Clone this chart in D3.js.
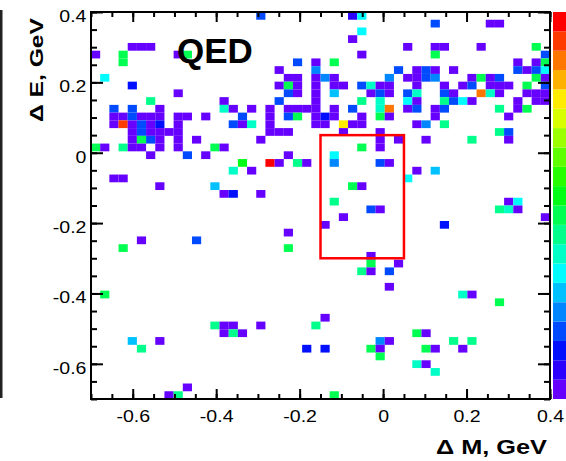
<!DOCTYPE html>
<html>
<head>
<meta charset="utf-8">
<script src="https://cdn.jsdelivr.net/npm/d3@7"></script>
<style>
body { margin: 0; background: #fff; }
svg { display: block; font-family: "Liberation Sans", Arial, sans-serif; }
</style>
</head>
<body>
<svg width="566" height="461"></svg>
<script>
// 2D histogram, 50 x 50 bins over [-0.7, 0.4] GeV in both directions
const binW = 0.022;
const rangeM = [-0.7, 0.4];
const rangeE = [-0.7, 0.4];
const majorTicks = [-0.6, -0.4, -0.2, 0, 0.2, 0.4];

// signal box drawn in red
const boxM = [-0.15, 0.05];
const boxE = [-0.3, 0.05];

// populated rows: dE bin centre, then dM bin centres and entries in that row
const rowE = [0.389, 0.367, 0.345, 0.323, 0.301, 0.279, 0.257, 0.235, 0.213, 0.191,
  0.169, 0.147, 0.125, 0.103, 0.081, 0.059, 0.037, 0.015, -0.007, -0.029,
  -0.051, -0.073, -0.095, -0.117, -0.139, -0.161, -0.183, -0.205, -0.227, -0.249,
  -0.271, -0.293, -0.315, -0.337, -0.381, -0.403, -0.425, -0.469, -0.491, -0.513,
  -0.535, -0.557, -0.579, -0.601, -0.623, -0.667, -0.689];

const rowM = [
  [-0.293, -0.073, -0.051],
  [0.125, 0.257, 0.279],
  [-0.051],
  [-0.073],
  [-0.601, -0.579, -0.557, 0.059, 0.125, 0.147, 0.235, 0.367],
  [-0.689, -0.623, -0.491, -0.469, -0.051, 0.125, 0.389],
  [-0.623, -0.205, -0.161, -0.117, 0.323, 0.367, 0.389],
  [-0.249, -0.161, 0.037, 0.081, 0.103, 0.125, 0.169, 0.323, 0.345, 0.367, 0.389],
  [-0.667, -0.227, -0.205, -0.161, -0.139, -0.117, 0.015, 0.059, 0.081, 0.103, 0.125, 0.213, 0.235, 0.257, 0.279, 0.367, 0.389],
  [-0.601, -0.249, -0.227, -0.205, -0.161, -0.117, -0.095, -0.051, -0.029, -0.007, 0.015, 0.081, 0.147, 0.191, 0.213, 0.257, 0.279, 0.301, 0.345, 0.389],
  [-0.491, -0.227, -0.205, -0.161, -0.117, -0.029, -0.007, 0.015, 0.059, 0.081, 0.147, 0.169, 0.235, 0.257, 0.279, 0.345, 0.367, 0.389],
  [-0.557, -0.381, -0.249, -0.161, -0.051, -0.007, 0.059, 0.081, 0.147, 0.169, 0.191, 0.213, 0.323, 0.367, 0.389],
  [-0.645, -0.601, -0.535, -0.381, -0.359, -0.315, -0.271, -0.227, -0.205, -0.183, -0.161, -0.117, -0.073, -0.007, 0.015, 0.059, 0.081, 0.125, 0.147, 0.279, 0.323, 0.345],
  [-0.645, -0.623, -0.601, -0.579, -0.557, -0.535, -0.491, -0.469, -0.425, -0.337, -0.271, -0.227, -0.205, -0.161, -0.139, -0.117, -0.051, -0.007, 0.015, 0.125, 0.301],
  [-0.645, -0.623, -0.601, -0.579, -0.557, -0.535, -0.491, -0.359, -0.337, -0.315, -0.271, -0.161, -0.139, -0.095, -0.073, -0.051, 0.081, 0.103, 0.147],
  [-0.601, -0.579, -0.557, -0.535, -0.513, -0.491, -0.271, -0.249, -0.227, -0.095, -0.007, 0.279, 0.301],
  [-0.601, -0.579, -0.557, -0.535, -0.491, -0.447, -0.293, -0.007, 0.037, 0.103, 0.213, 0.301],
  [-0.689, -0.667, -0.623, -0.601, -0.579, -0.535, -0.491, -0.403, -0.381, -0.051, -0.007],
  [-0.557, -0.469, -0.425, -0.227, -0.117],
  [-0.337, -0.271, -0.249, -0.205, -0.183, -0.117, -0.007, 0.015],
  [-0.359, -0.315, 0.081, 0.125],
  [-0.645, -0.623, 0.059],
  [-0.535, -0.403, -0.073, -0.051],
  [-0.381, -0.359, -0.293],
  [-0.117, 0.301, 0.323],
  [-0.029, -0.007, 0.279, 0.301, 0.323],
  [-0.095, 0.389],
  [-0.139, 0.147],
  [-0.227],
  [-0.579, -0.447],
  [-0.623, -0.227],
  [-0.029],
  [-0.029, 0.037],
  [-0.051, -0.029, 0.015],
  [0.015],
  [-0.667, 0.191, 0.213],
  [0.279],
  [-0.139],
  [-0.403, -0.381, -0.359, -0.293, -0.161],
  [-0.381, -0.359, -0.337, 0.081, 0.103],
  [-0.601, -0.535, -0.007, 0.015, 0.169, 0.213],
  [-0.579, -0.183, -0.139, -0.029, -0.007, 0.103, 0.125, 0.191],
  [-0.007],
  [0.081, 0.103],
  [0.125],
  [-0.469],
  [-0.513, -0.491, -0.117]
];

const rowN = [
  [4, 2, 7],
  [4, 1, 1],
  [7],
  [1],
  [1, 1, 1, 1, 1, 1, 1, 10],
  [1, 10, 1, 10, 1, 10, 4],
  [10, 4, 1, 10, 1, 1, 10],
  [1, 5, 4, 1, 4, 1, 1, 4, 1, 4, 7],
  [7, 1, 1, 1, 5, 1, 5, 1, 1, 4, 5, 1, 10, 1, 4, 10, 1],
  [3, 1, 10, 1, 1, 1, 1, 4, 8, 1, 1, 1, 1, 1, 4, 1, 1, 1, 10, 4],
  [1, 4, 1, 1, 6, 1, 4, 1, 4, 8, 4, 1, 18, 8, 1, 1, 1, 1],
  [9, 1, 4, 1, 9, 8, 7, 1, 9, 4, 7, 1, 1, 1, 1],
  [4, 4, 1, 8, 1, 1, 1, 1, 1, 1, 1, 1, 4, 8, 18, 1, 4, 1, 4, 9, 1, 10],
  [1, 1, 4, 1, 1, 1, 1, 1, 1, 4, 1, 4, 10, 1, 3, 1, 1, 10, 1, 1, 1],
  [1, 19, 1, 4, 1, 3, 1, 4, 1, 8, 1, 1, 1, 16, 1, 1, 1, 5, 9],
  [1, 4, 1, 1, 1, 1, 1, 1, 1, 1, 1, 9, 4],
  [1, 10, 4, 1, 1, 1, 1, 1, 1, 1, 9, 1],
  [10, 1, 9, 1, 1, 1, 1, 10, 1, 10, 1],
  [1, 4, 1, 1, 7],
  [11, 20, 1, 9, 1, 5, 4, 1],
  [8, 1, 1, 6],
  [1, 1, 7],
  [1, 6, 10, 1],
  [1, 3, 1],
  [9, 1, 7],
  [4, 1, 9, 8, 1],
  [1, 1],
  [1, 3],
  [1],
  [1, 4],
  [10, 10],
  [1],
  [10, 1],
  [9, 1, 4],
  [1],
  [10, 8, 1],
  [10],
  [1],
  [9, 1, 1, 1, 9],
  [1, 9, 1, 10, 1],
  [6, 1, 5, 1, 9, 9],
  [9, 3, 3, 10, 1, 10, 1, 1],
  [10],
  [8, 1],
  [8],
  [1],
  [1, 9, 10]
];

// palette, violet (low) to red (high), one colour per contour level
const palette = ["#6600ff", "#2b00ff", "#0010ff", "#004bff", "#0086ff", "#00c1ff", "#00fcff",
  "#00ffc6", "#00ff8b", "#00ff50", "#00ff15", "#25ff00", "#60ff00", "#9cff00", "#d7ff00",
  "#ffec00", "#ffb100", "#ff7600", "#ff3b00", "#ff0000"];
const zRange = [0.5, 20.5];

const cells = rowE.flatMap((e, r) => rowM[r].map((m, k) => ({ m: m, e: e, n: rowN[r][k] })));

const svg = d3.select("svg");
const x = d3.scaleLinear().domain(rangeM).range([91, 550]);
const y = d3.scaleLinear().domain(rangeE).range([399, 12]);
const colour = d3.scaleQuantize().domain(zRange).range(palette);
const zBar = d3.scaleLinear().domain(zRange).range([399, 12]);

const fmt = d => String(d);

// neighbouring panel edge at the far left
svg.append("rect")
  .attr("x", 0).attr("y", 10).attr("width", 2.5).attr("height", 388)
  .attr("fill", "#222");

// cells
svg.append("g")
  .selectAll("rect")
  .data(cells)
  .join("rect")
  .attr("x", d => x(d.m - binW / 2))
  .attr("y", d => y(d.e + binW / 2))
  .attr("width", d => x(d.m + binW / 2) - x(d.m - binW / 2))
  .attr("height", d => y(d.e - binW / 2) - y(d.e + binW / 2))
  .attr("fill", d => colour(d.n));

// colour bar
const levels = d3.range(palette.length);
svg.append("g")
  .selectAll("rect")
  .data(levels)
  .join("rect")
  .attr("x", 553)
  .attr("width", 20)
  .attr("y", k => zBar(k + 1.5))
  .attr("height", k => zBar(k + 0.5) - zBar(k + 1.5))
  .attr("fill", k => palette[k]);

// signal box
svg.append("rect")
  .attr("x", x(boxM[0]))
  .attr("y", y(boxE[1]))
  .attr("width", x(boxM[1]) - x(boxM[0]))
  .attr("height", y(boxE[0]) - y(boxE[1]))
  .attr("fill", "none")
  .attr("stroke", "#ff0000")
  .attr("stroke-width", 2.5);

// axes, ticks pointing inwards on all four sides
function styleAxis(g) {
  g.select(".domain").remove();
  g.selectAll(".tick line").attr("stroke", "#000").attr("stroke-width", 2);
  g.selectAll("text").attr("fill", "#000").style("font-size", "17px");
}

svg.append("g").attr("transform", "translate(0,399)")
  .call(d3.axisBottom(x).ticks(22).tickSizeInner(-5).tickSizeOuter(0).tickFormat(""))
  .call(styleAxis);
svg.append("g").attr("transform", "translate(0,399)")
  .call(d3.axisBottom(x).tickValues(majorTicks).tickSizeInner(-10).tickSizeOuter(0).tickPadding(11).tickFormat(fmt))
  .call(styleAxis)
  .call(g => g.selectAll("text").attr("transform", "scale(1.15,1)"));

svg.append("g").attr("transform", "translate(0,12)")
  .call(d3.axisTop(x).ticks(22).tickSizeInner(-5).tickSizeOuter(0).tickFormat(""))
  .call(styleAxis);
svg.append("g").attr("transform", "translate(0,12)")
  .call(d3.axisTop(x).tickValues(majorTicks).tickSizeInner(-10).tickSizeOuter(0).tickFormat(""))
  .call(styleAxis);

svg.append("g").attr("transform", "translate(91,0)")
  .call(d3.axisLeft(y).ticks(22).tickSizeInner(-6).tickSizeOuter(0).tickFormat(""))
  .call(styleAxis);
svg.append("g").attr("transform", "translate(91,0)")
  .call(d3.axisLeft(y).tickValues(majorTicks).tickSizeInner(-12).tickSizeOuter(0).tickPadding(4).tickFormat(fmt))
  .call(styleAxis)
  .call(g => g.selectAll("text").attr("dy", "0.55em").attr("transform", "scale(1.15,1)"));

svg.append("g").attr("transform", "translate(550,0)")
  .call(d3.axisRight(y).ticks(22).tickSizeInner(-6).tickSizeOuter(0).tickFormat(""))
  .call(styleAxis);
svg.append("g").attr("transform", "translate(550,0)")
  .call(d3.axisRight(y).tickValues(majorTicks).tickSizeInner(-12).tickSizeOuter(0).tickFormat(""))
  .call(styleAxis);

// frame
svg.append("rect")
  .attr("x", 91).attr("y", 12).attr("width", 459).attr("height", 387)
  .attr("fill", "none").attr("stroke", "#000").attr("stroke-width", 2);

// texts
svg.append("text")
  .attr("x", 177).attr("y", 63)
  .attr("font-size", 35).attr("font-weight", "bold")
  .text("QED");

svg.append("text")
  .attr("x", 436).attr("y", 454)
  .attr("font-size", 20).attr("font-weight", "bold")
  .attr("textLength", 111).attr("lengthAdjust", "spacingAndGlyphs")
  .text("Δ M, GeV");

svg.append("text")
  .attr("transform", "translate(43,122) rotate(-90)")
  .attr("font-size", 18).attr("font-weight", "bold")
  .attr("textLength", 104).attr("lengthAdjust", "spacingAndGlyphs")
  .text("Δ E, GeV");
</script>
</body>
</html>
